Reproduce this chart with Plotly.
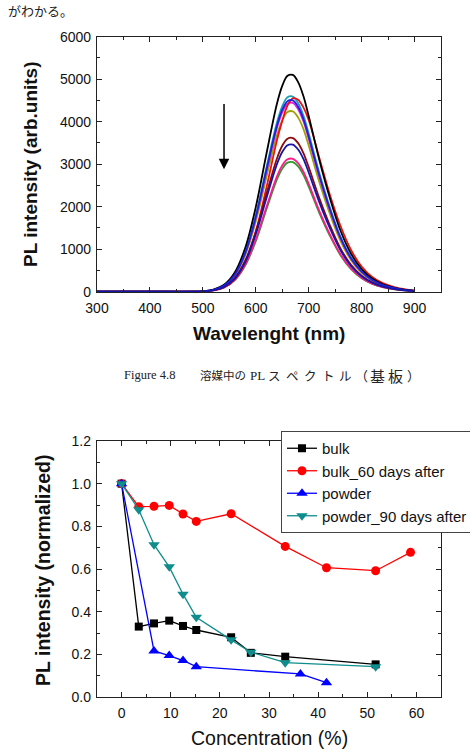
import plotly.graph_objects as go

W, H = 470, 756

# ---------------- Top chart: PL spectra ----------------
wavelength = [300, 400, 480, 500, 520, 540, 560, 580, 600, 620, 640, 650, 660, 670, 680, 690,
              700, 720, 740, 760, 780, 800, 820, 840, 860, 880, 900]

spec_green = [0, 0, 0, 6, 30, 98, 267, 615, 1189, 1934, 2643, 2895, 3036, 3048, 2947, 2751,
              2471, 1856, 1317, 860, 534, 319, 185, 105, 59, 30, 12]
spec_pink = [0, 0, 0, 6, 31, 100, 274, 631, 1220, 1984, 2712, 2970, 3115, 3127, 3024, 2823,
             2536, 1904, 1352, 882, 548, 327, 190, 108, 60, 31, 13]
spec_olive = [0, 0, 0, 9, 42, 136, 372, 856, 1655, 2692, 3679, 4030, 4226, 4243, 4102, 3830,
              3440, 2584, 1834, 1197, 743, 443, 257, 146, 82, 42, 17]
spec_magenta = [0, 0, 0, 9, 44, 142, 389, 896, 1733, 2819, 3852, 4219, 4424, 4442, 4295, 4010,
                3601, 2705, 1920, 1253, 778, 464, 269, 153, 86, 44, 18]
spec_cyan = [0, 0, 0, 9, 45, 147, 402, 926, 1791, 2914, 3981, 4361, 4573, 4592, 4439, 4144,
             3723, 2796, 1985, 1295, 804, 480, 278, 158, 89, 45, 18]
spec_red = [0, 0, 0, 5, 29, 100, 292, 694, 1415, 2442, 3561, 4017, 4382, 4551, 4519, 4337,
            4040, 3150, 2283, 1552, 981, 593, 347, 201, 114, 59, 27]
spec_wine = [0, 0, 0, 7, 36, 116, 317, 729, 1411, 2294, 3135, 3434, 3601, 3615, 3496, 3263,
             2931, 2202, 1563, 1020, 633, 378, 219, 125, 70, 36, 15]
spec_black = [0, 0, 0, 10, 50, 163, 447, 1028, 1990, 3235, 4422, 4843, 5080, 5100, 4930, 4603,
              4134, 3105, 2204, 1439, 893, 533, 309, 176, 98, 50, 20]
spec_blue = [0, 0, 0, 9, 44, 144, 395, 908, 1756, 2857, 3903, 4276, 4484, 4502, 4353, 4063,
             3650, 2741, 1946, 1270, 788, 471, 273, 155, 87, 44, 18]
spec_navy = [0, 0, 0, 7, 34, 111, 303, 698, 1350, 2196, 3001, 3287, 3447, 3461, 3346, 3124,
             2806, 2108, 1496, 976, 606, 362, 210, 119, 67, 34, 14]

spectra = [
    (spec_green, "#2e9a2e"),
    (spec_pink, "#ff1a8c"),
    (spec_olive, "#a0a000"),
    (spec_magenta, "#e020e0"),
    (spec_cyan, "#1aa0b0"),
    (spec_red, "#ee1111"),
    (spec_wine, "#8b0a0a"),
    (spec_black, "#000000"),
    (spec_blue, "#2020e0"),
    (spec_navy, "#1515a8"),
]

# ---------------- Bottom chart: normalized PL ----------------
bulk_x = [0, 3.5, 6.6, 9.7, 12.5, 15.2, 22.3, 26.3, 33.3, 51.7]
bulk_y = [1.0, 0.33, 0.345, 0.358, 0.333, 0.314, 0.28, 0.207, 0.189, 0.153]

bulk60_x = [0, 3.5, 6.6, 9.7, 12.5, 15.2, 22.3, 33.3, 41.7, 51.7, 58.8]
bulk60_y = [1.0, 0.892, 0.894, 0.898, 0.858, 0.823, 0.859, 0.706, 0.606, 0.592, 0.678]

powder_x = [0, 6.6, 9.7, 12.5, 15.2, 36.4, 41.7]
powder_y = [1.0, 0.216, 0.194, 0.171, 0.142, 0.108, 0.067]

powder90_x = [0, 3.5, 6.6, 9.7, 12.5, 15.2, 22.3, 26.3, 33.3, 51.7]
powder90_y = [1.0, 0.878, 0.714, 0.61, 0.482, 0.374, 0.268, 0.21, 0.161, 0.142]

fig = go.Figure()

for vals, col in spectra:
    fig.add_trace(go.Scatter(x=wavelength, y=vals, mode="lines",
                             line=dict(color=col, width=1.8, shape="spline", smoothing=1.0),
                             showlegend=False, hoverinfo="skip", xaxis="x", yaxis="y"))

series = [
    ("bulk", bulk_x, bulk_y, "#000000", "square", 8),
    ("bulk_60 days after", bulk60_x, bulk60_y, "#ff0000", "circle", 9),
    ("powder", powder_x, powder_y, "#0000ff", "triangle-up", 10),
    ("powder_90 days after", powder90_x, powder90_y, "#0f8c8c", "triangle-down", 10),
]
for name, xs, ys, col, sym, sz in series:
    fig.add_trace(go.Scatter(x=xs, y=ys, mode="lines+markers", name=name,
                             line=dict(color=col, width=1.3),
                             marker=dict(symbol=sym, size=sz, color=col),
                             xaxis="x2", yaxis="y2"))


def px_x(p):
    return p / W


def px_y(p):
    return 1 - p / H


axis_common = dict(
    showline=True, linecolor="#222", linewidth=1.3, mirror="ticks",
    ticks="inside", ticklen=5, tickwidth=1.2, tickcolor="#222",
    showgrid=False, zeroline=False, automargin=False,
    tickfont=dict(family="Liberation Sans, Arial, sans-serif", size=14, color="#111"),
)

xdom = [px_x(97), px_x(441)]

fig.update_layout(
    width=W, height=H,
    margin=dict(l=0, r=0, t=0, b=0, pad=0, autoexpand=False),
    paper_bgcolor="white", plot_bgcolor="white",
    xaxis=dict(axis_common, domain=xdom, anchor="y", range=[300, 950], tick0=300, dtick=100,
               ticklabelstandoff=3,
               minor=dict(ticks="inside", ticklen=3, tickwidth=1.1, tickcolor="#222", dtick=50)),
    yaxis=dict(axis_common, domain=[px_y(291.7), px_y(36.7)], anchor="x", range=[0, 6000], dtick=1000,
               ticklabelstandoff=2,
               minor=dict(ticks="inside", ticklen=3, tickwidth=1.1, tickcolor="#222", dtick=500)),
    xaxis2=dict(axis_common, domain=xdom, anchor="y2", range=[-5, 65], tick0=0, dtick=10,
                ticklabelstandoff=3,
                minor=dict(ticks="inside", ticklen=3, tickwidth=1.1, tickcolor="#222", dtick=5)),
    yaxis2=dict(axis_common, domain=[px_y(697), px_y(441)], anchor="x2", range=[0, 1.2], dtick=0.2,
                tickformat=".1f", ticklabelstandoff=2,
                minor=dict(ticks="inside", ticklen=3, tickwidth=1.1, tickcolor="#222", dtick=0.1)),
    legend=dict(x=px_x(281), y=px_y(431), xanchor="left", yanchor="top",
                bgcolor="white", bordercolor="#444", borderwidth=1,
                font=dict(family="Liberation Sans, Arial, sans-serif", size=15, color="#111"),
                tracegroupgap=0, itemwidth=30),
)

ann = []
# axis titles top
ann.append(dict(text="<b>Wavelenght (nm)</b>", x=px_x(269), y=px_y(333), xref="paper", yref="paper",
                showarrow=False, xanchor="center", yanchor="middle",
                font=dict(family="Liberation Sans, Arial, sans-serif", size=19, color="#111")))
ann.append(dict(text="<b>PL intensity (arb.units)</b>", x=px_x(30), y=px_y(164), xref="paper", yref="paper",
                showarrow=False, xanchor="center", yanchor="middle", textangle=-90,
                font=dict(family="Liberation Sans, Arial, sans-serif", size=19, color="#111")))
# axis titles bottom
ann.append(dict(text="Concentration (%)", x=px_x(269), y=px_y(738), xref="paper", yref="paper",
                showarrow=False, xanchor="center", yanchor="middle",
                font=dict(family="Liberation Sans, Arial, sans-serif", size=19.5, color="#111")))
ann.append(dict(text="<b>PL intensity (normalized)</b>", x=px_x(43), y=px_y(570), xref="paper", yref="paper",
                showarrow=False, xanchor="center", yanchor="middle", textangle=-90,
                font=dict(family="Liberation Sans, Arial, sans-serif", size=19.5, color="#111")))
# arrow in spectra plot
ann.append(dict(x=540, y=2880, ax=540, ay=4450, xref="x", yref="y", axref="x", ayref="y",
                showarrow=True, arrowhead=2, arrowsize=1.4, arrowwidth=1.5, arrowcolor="#000",
                text=""))
# page text
cjk = "Noto Sans CJK JP, sans-serif"
serif = "Liberation Serif, Noto Sans CJK JP, serif"
ann.append(dict(text="がわかる。", x=px_x(6), y=px_y(11), xref="paper", yref="paper",
                showarrow=False, xanchor="left", yanchor="middle",
                font=dict(family=cjk, size=13, color="#222")))
caption_parts = [
    ("Figure 4.8", 122, serif, 12.5),
    ("溶媒中の", 198, cjk, 11.5),
    ("PL", 248, serif, 13),
    ("ス", 266, cjk, 12.5),
    ("ペ", 284, cjk, 12.5),
    ("ク", 302, cjk, 12.5),
    ("ト", 320, cjk, 12.5),
    ("ル", 337, cjk, 12.5),
    ("（", 353, cjk, 13),
    ("基", 368, cjk, 15),
    ("板", 386, cjk, 15),
    ("）", 405, cjk, 13),
]
for txt, xp, fam, sz in caption_parts:
    ann.append(dict(text=txt, x=px_x(xp), y=px_y(375), xref="paper", yref="paper",
                    showarrow=False, xanchor="left", yanchor="middle",
                    font=dict(family=fam, size=sz, color="#222")))

fig.update_layout(annotations=ann)

fig.write_html(
    "out.html",
    post_script="document.body.style.margin='0';document.documentElement.style.overflow='hidden';",
)
